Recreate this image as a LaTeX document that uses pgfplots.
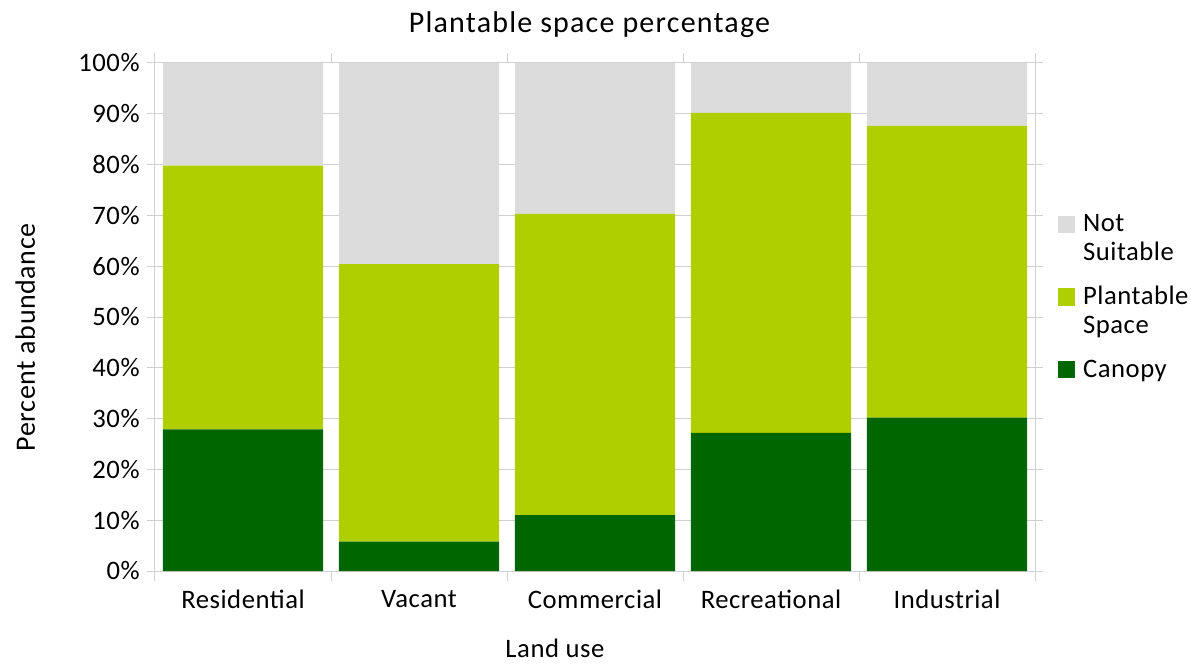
\documentclass[border=0pt]{standalone}
\usepackage{fontspec}
\setmainfont{Carlito}[LetterSpace=2]
\usepackage{pgfplots}
\pgfplotsset{compat=1.18}
\definecolor{canopy}{HTML}{006600}
\definecolor{plant}{HTML}{AFCF00}
\definecolor{notsuit}{HTML}{DCDCDC}
\definecolor{gridc}{HTML}{D0D0D0}
\newcommand{\sq}[1]{\fill[#1, draw=none] (0pt,-1pt) rectangle (12.75pt,12pt); \path[draw=none, fill=none] (0pt,0pt) -- (17pt,0pt);}
\newcommand{\nosq}{\path[draw=none, fill=none] (0pt,-15pt) -- (17pt,0pt);}
\begin{document}
\begin{tikzpicture}[font=\fontsize{20}{24}\selectfont]
\path[use as bounding box] (-116.25pt,-69.75pt) rectangle (777pt,428.25pt);
\begin{axis}[
  at={(0,0)}, anchor=south west,
  scale only axis, width=660pt, height=381pt,
  ybar stacked, bar width=0.91,
  xmin=-0.5, xmax=4.5, ymin=0, ymax=100,
  xtick={0,...,4},
  xticklabels={Residential,Vacant,Commercial,Recreational,Industrial},
  major x tick style={draw=none},
  minor xtick={-0.5,0.5,...,4.5},
  minor tick length=7.5pt,
  major tick length=6pt,
  tick align=outside,
  tick style={gridc, line width=0.75pt},
  ytick={0,10,...,100},
  yticklabels={0\%,10\%,20\%,30\%,40\%,50\%,60\%,70\%,80\%,90\%,100\%},
  ymajorgrids, grid style={gridc, line width=0.75pt},
  axis line style={gridc, line width=0.75pt},
  xticklabel style={yshift=-5pt},
  yticklabel style={xshift=-2pt},
  every axis title shift=0pt,
  title={\fontsize{22.5}{26}\selectfont\addfontfeature{LetterSpace=4}Plantable space percentage},
  title style={at={(axis description cs:0.4937,1)}, anchor=base, yshift=22.5pt},
  xlabel={Land use},
  xlabel style={at={(axis description cs:0.4545,0)}, anchor=base, yshift=-64.5pt},
  ylabel={\fontsize{21}{24}\selectfont Percent abundance},
  ylabel style={at={(axis description cs:-0.1364,0.46)}, anchor=base, rotate=0},
  legend style={draw=none, fill=none, at={(1.021,0.54)}, anchor=west,
    row sep=3pt, font=\fontsize{20}{21}\selectfont,
    cells={anchor=base west, text height=13pt, text depth=4pt, inner ysep=0pt}},
]
\addplot[fill=canopy, draw=none, forget plot] coordinates {(0,27.9) (1,5.8) (2,11.0) (3,27.2) (4,30.2)};
\addplot[fill=plant, draw=none, forget plot] coordinates {(0,51.9) (1,54.6) (2,59.3) (3,63.0) (4,57.4)};
\addplot[fill=notsuit, draw=none, forget plot] coordinates {(0,20.2) (1,39.6) (2,29.7) (3,9.8) (4,12.4)};
\addlegendimage{legend image code/.code={\sq{notsuit}}}
\addlegendentry{Not}
\addlegendimage{legend image code/.code={\nosq}}
\addlegendentry{Suitable}
\addlegendimage{legend image code/.code={\sq{plant}}}
\addlegendentry{Plantable}
\addlegendimage{legend image code/.code={\nosq}}
\addlegendentry{Space}
\addlegendimage{legend image code/.code={\sq{canopy}}}
\addlegendentry{Canopy}
\end{axis}
\end{tikzpicture}
\end{document}
